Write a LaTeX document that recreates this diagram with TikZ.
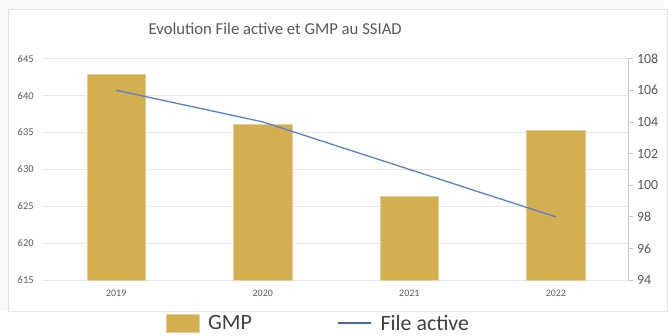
\documentclass[tikz,border=0pt]{standalone}
\usepackage{fontspec}
\setmainfont{Carlito}
\usetikzlibrary{positioning}
\definecolor{gmpgold}{RGB}{212,175,80}
\definecolor{fileblue}{RGB}{86,128,210}
\definecolor{keyblue}{RGB}{72,100,165}
\definecolor{gridgray}{RGB}{230,230,230}
\definecolor{textgray}{RGB}{89,89,89}
\tikzset{
    x=1pt, y=-1pt, % one unit is one pixel, y runs downwards
    gridline/.style={gridgray, line width=0.9pt}, % horizontal grid lines
    axisline/.style={gray!45, line width=0.8pt}, % the right hand axis
    bar/.style={fill=gmpgold, draw=gmpgold!60!white, line width=0.6pt}, % GMP bars
    trend/.style={fileblue, line width=1.3pt}, % File active line
    leftlabel/.style={text=textgray, anchor=east, inner sep=0pt, font=\fontsize{10.5}{12}\selectfont},
    rightlabel/.style={text=textgray, anchor=west, inner sep=0pt, font=\fontsize{14}{16}\selectfont},
    yearlabel/.style={text=textgray, inner sep=0pt, font=\fontsize{10}{12}\selectfont},
    keytext/.style={text=black!75, inner sep=0pt, anchor=west, font=\fontsize{22}{25}\selectfont},
    node distance=8pt,
}

\begin{document}
\begin{tikzpicture}
    % page and chart frame
    \fill[white] (0,0) rectangle (668,338);
    \fill[gray!5] (0,0) rectangle (668,313);
    \filldraw[fill=white, draw=gray!22, line width=0.8pt] (8,9) rectangle (672,313);
    \useasboundingbox (0,0) rectangle (668,338);

    \node[text=textgray, font=\fontsize{16.8}{20}\selectfont] (title) at (277,29) {Evolution File active et GMP au SSIAD};

    % left axis: GMP from 615 to 645
    \foreach \v in {615,620,...,645}{
        \draw[gridline] (43,{282-(\v-615)*7.433}) -- (633,{282-(\v-615)*7.433});
        \node[leftlabel] (l\v) at (34,{282-(\v-615)*7.433}) {\v};
    }

    % right axis: File active from 94 to 108
    \draw[axisline] (633,59) -- (633,282);
    \foreach \v in {94,96,...,108}{
        \draw[axisline] (633,{282-(\v-94)*15.93}) -- (637,{282-(\v-94)*15.93});
        \node[rightlabel] (r\v) at (641,{282-(\v-94)*15.93}) {\v};
    }

    % bars and years
    \foreach \yr/\val [count=\i] in {2019/642.85, 2020/636.1, 2021/626.4, 2022/635.35}{
        \path[bar] ({117+(\i-1)*147.5-29.5},{282-(\val-615)*7.433}) rectangle ({117+(\i-1)*147.5+29.5},282);
        \node[yearlabel] (y\yr) at ({117+(\i-1)*147.5},295) {\yr};
    }

    % File active points
    \foreach \f [count=\i] in {106,104,101,98}{
        \coordinate (f\i) at ({117+(\i-1)*147.5},{282-(\f-94)*15.93});
    }
    \draw[trend] (f1) -- (f2) -- (f3) -- (f4);

    % legend
    \node[bar, minimum width=34pt, minimum height=18pt, inner sep=0pt] (gmpkey) at (184,325) {};
    \node[keytext, right=of gmpkey] (gmptext) {GMP};
    \coordinate (filekeyA) at (340,325);
    \coordinate (filekeyB) at (373,325);
    \draw[keyblue, line width=2pt] (filekeyA) -- (filekeyB);
    \node[keytext, right=10pt of filekeyB] (filetext) {File active};
\end{tikzpicture}
\end{document}
